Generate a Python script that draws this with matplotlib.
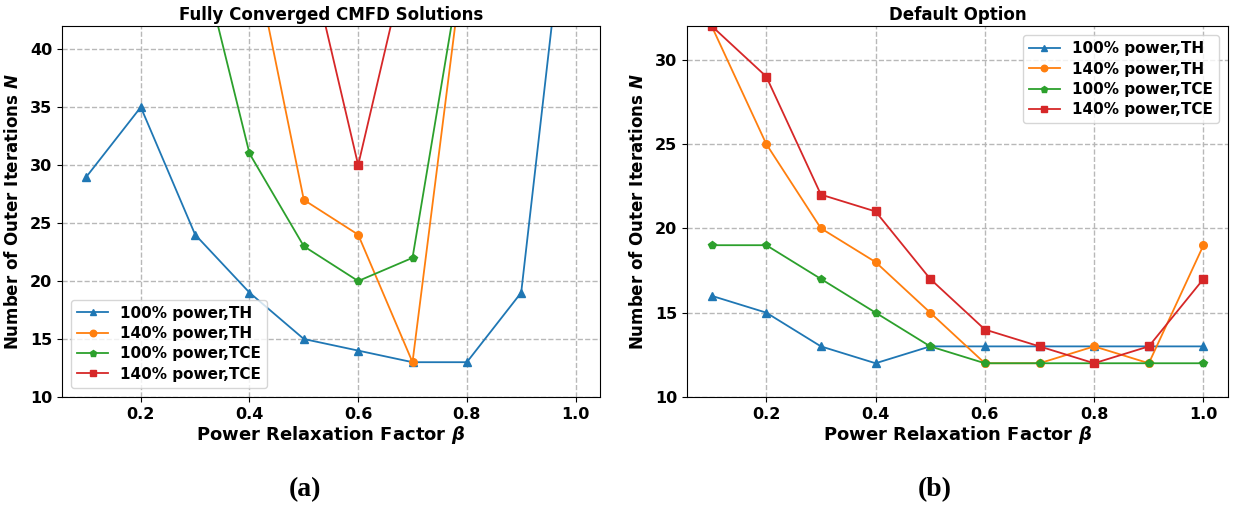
import matplotlib
matplotlib.use("Agg")
from matplotlib import pyplot as plt

beta = [0.1, 0.2, 0.3, 0.4, 0.5, 0.6, 0.7, 0.8, 0.9, 1.0]
labels = ["100% power,TH", "140% power,TH", "100% power,TCE", "140% power,TCE"]
markers = ["^", "o", "p", "s"]
colors = ["#1f77b4", "#ff7f0e", "#2ca02c", "#d62728"]

# (a) fully converged CMFD; 50 = not converged within the iteration cap
conv_100_th = [29, 35, 24, 19, 15, 14, 13, 13, 19, 60]
conv_140_th = [50, 50, 50, 50, 27, 24, 13, 50, 50, 50]
conv_100_tce = [50, 50, 50, 31, 23, 20, 22, 50, 50, 50]
conv_140_tce = [50, 50, 50, 50, 50, 30, 50, 50, 50, 50]

# (b) default option
def_100_th = [16, 15, 13, 12, 13, 13, 13, 13, 13, 13]
def_140_th = [32, 25, 20, 18, 15, 12, 12, 13, 12, 19]
def_100_tce = [19, 19, 17, 15, 13, 12, 12, 12, 12, 12]
def_140_tce = [32, 29, 22, 21, 17, 14, 13, 12, 13, 17]

plt.rcParams["font.family"] = "DejaVu Sans"
plt.rcParams["font.weight"] = "bold"
plt.rcParams["mathtext.fontset"] = "custom"
plt.rcParams["mathtext.it"] = "DejaVu Sans:bold:italic"
plt.rcParams["mathtext.rm"] = "DejaVu Sans:bold"


def panel(ax, series, title, ylim, yticks, legend_loc):
    for vals, lab, m, c in zip(series, labels, markers, colors):
        ax.plot(beta, vals, marker=m, color=c, label=lab, linewidth=1.3, markersize=5.5)
    ax.set_ylim(*ylim)
    ax.set_yticks(yticks)
    ax.set_xticks([0.2, 0.4, 0.6, 0.8, 1.0])
    ax.grid(True, linestyle="--", color="#b8b8b8", linewidth=1)
    ax.set_title(title, fontsize=12, fontweight="bold", pad=4)
    ax.set_xlabel(r"Power Relaxation Factor $\beta$", fontsize=13, fontweight="bold", labelpad=2)
    ax.set_ylabel(r"Number of Outer Iterations $N$", fontsize=12, fontweight="bold", labelpad=6)
    ax.tick_params(labelsize=11.5)
    for t in ax.get_xticklabels() + ax.get_yticklabels():
        t.set_fontweight("bold")
    ax.legend(loc=legend_loc, prop={"weight": "bold", "size": 11},
              labelspacing=0.35, markerscale=0.85, borderaxespad=0.6)


fig = plt.figure(figsize=(12.33, 5.05), dpi=100)
ax1 = fig.add_axes([0.0503, 0.2139, 0.4363, 0.7347])
ax2 = fig.add_axes([0.5572, 0.2139, 0.4388, 0.7347])

panel(ax1, [conv_100_th, conv_140_th, conv_100_tce, conv_140_tce],
      "Fully Converged CMFD Solutions", (10, 42), range(10, 41, 5), "lower left")
panel(ax2, [def_100_th, def_140_th, def_100_tce, def_140_tce],
      "Default Option", (10, 32), range(10, 31, 5), "upper right")

fig.text(0.247, 0.018, "(a)", family="Liberation Serif", fontweight="bold", fontsize=20, ha="center")
fig.text(0.758, 0.018, "(b)", family="Liberation Serif", fontweight="bold", fontsize=20, ha="center")

fig.savefig("out.png", dpi=100)
